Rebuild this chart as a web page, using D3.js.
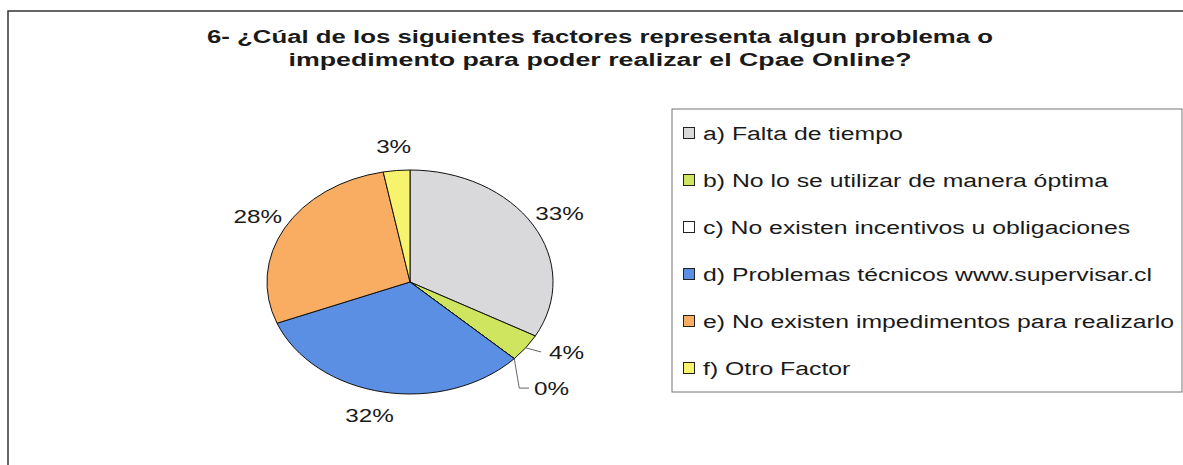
<!DOCTYPE html>
<html>
<head>
<meta charset="utf-8">
<script src="https://cdn.jsdelivr.net/npm/d3@7"></script>
<style>
  body { margin: 0; background: #fff; }
  text { font-family: "Liberation Sans", Arial, sans-serif; fill: #1a1a1a; }
</style>
</head>
<body>
<div id="chart"></div>
<script>
// survey answers, question 6
let categories = [
    "a) Falta de tiempo",
    "b) No lo se utilizar de manera óptima",
    "c) No existen incentivos u obligaciones",
    "d) Problemas técnicos www.supervisar.cl",
    "e) No existen impedimentos para realizarlo",
    "f) Otro Factor"
];
let percents = [33, 4, 0, 32, 28, 3];
let titleLines = [
    "6- ¿Cúal de los siguientes factores representa algun problema o",
    "impedimento para poder realizar el Cpae Online?"
];

let palette = ["#d9d9dc", "#cfe560", "#ffffff", "#5b8fe3", "#f8ad62", "#f7f36c"];

let width = 1183, height = 465;
let sx = 1.277;               // the scan is stretched horizontally
let cx = 410, cy = 282, r = 112;

let svg = d3.select("#chart")
    .append("svg")
    .attr("width", width)
    .attr("height", height);

// outer frame (runs off right and bottom)
svg.append("rect")
    .attr("x", 8).attr("y", 11)
    .attr("width", 1200).attr("height", 480)
    .attr("fill", "none")
    .attr("stroke", "#333")
    .attr("stroke-width", 1.5);

// title
let titleWidths = [786, 623];
svg.selectAll("text.title")
    .data(titleLines)
    .enter()
    .append("text")
    .attr("class", "title")
    .attr("x", 600)
    .attr("y", (d, i) => 43 + i * 23)
    .attr("text-anchor", "middle")
    .attr("textLength", (d, i) => titleWidths[i])
    .attr("lengthAdjust", "spacingAndGlyphs")
    .style("font-size", "18px")
    .style("font-weight", "bold")
    .text(d => d);

// pie
let pie = d3.pie().sort(null).value(d => d);
let arcs = pie(percents);
let arc = d3.arc().innerRadius(0).outerRadius(r);
let labelArc = d3.arc().innerRadius(136).outerRadius(136);

let pieG = svg.append("g")
    .attr("transform", `translate(${cx}, ${cy}) scale(${sx}, 1)`);

pieG.selectAll("path")
    .data(arcs)
    .enter()
    .append("path")
    .attr("d", arc)
    .attr("fill", (d, i) => palette[i])
    .attr("stroke", "#111")
    .attr("stroke-width", 1)
    .attr("vector-effect", "non-scaling-stroke");

// labels that Excel pushed aside, with leader lines
let labelShift = { 1: [16, -10], 2: [15, 13] };

let labels = svg.append("g");
arcs.forEach((d, i) => {
    let c = labelArc.centroid(d);
    let lx = cx + c[0] * sx, ly = cy + c[1];
    let shift = labelShift[i];
    if (shift) { lx += shift[0]; ly += shift[1]; }
    if (i == 3) lx -= 8;

    let t = labels.append("text")
        .attr("transform", `translate(${lx}, ${ly}) scale(${sx}, 1)`)
        .attr("text-anchor", "middle")
        .attr("dy", "0.36em")
        .style("font-size", "19px")
        .text(percents[i] + "%");

    if (shift) {
        let w = t.node().getComputedTextLength() * sx;
        let mid = (d.startAngle + d.endAngle) / 2;
        let ex = cx + Math.sin(mid) * r * sx, ey = cy - Math.cos(mid) * r;
        let pts = i == 2
            ? [[ex, ey], [ex + 5, ly], [lx - w / 2 - 5, ly]]
            : [[ex, ey], [lx - w / 2 - 8, ly]];
        labels.append("path")
            .attr("d", d3.line()(pts))
            .attr("fill", "none")
            .attr("stroke", "#666")
            .attr("stroke-width", 1);
    }
});

// legend
let legend = svg.append("g");
legend.append("rect")
    .attr("x", 672).attr("y", 109)
    .attr("width", 510).attr("height", 283)
    .attr("fill", "none")
    .attr("stroke", "#777")
    .attr("stroke-width", 1);

let rows = legend.selectAll("g.row")
    .data(categories)
    .enter()
    .append("g")
    .attr("class", "row")
    .attr("transform", (d, i) => `translate(683, ${133 + i * 47})`);

rows.append("rect")
    .attr("x", 0.5).attr("y", -5.5)
    .attr("width", 11).attr("height", 11)
    .attr("fill", (d, i) => palette[i])
    .attr("stroke", "#222")
    .attr("stroke-width", 1);

rows.append("text")
    .attr("transform", `translate(20, 0) scale(1.305, 1)`)
    .attr("dy", "0.36em")
    .style("font-size", "19px")
    .text(d => d);
</script>
</body>
</html>
